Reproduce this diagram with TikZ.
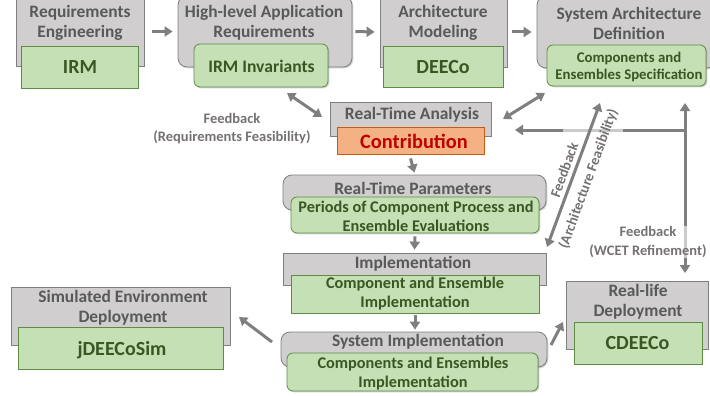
\documentclass[tikz,border=0pt]{standalone}
\usepackage{fontspec}
\setmainfont{Carlito}
\usetikzlibrary{arrows.meta,shadows}
\definecolor{boxgray}{HTML}{D0CECE}
\definecolor{boxline}{HTML}{7F7F7F}
\definecolor{hdrtext}{HTML}{595959}
\definecolor{grnfill}{HTML}{C5E0B4}
\definecolor{grnline}{HTML}{5E8C45}
\definecolor{grntext}{HTML}{385723}
\definecolor{orgfill}{HTML}{F4B183}
\definecolor{orgline}{HTML}{C55A11}
\definecolor{redtext}{HTML}{C00000}
\definecolor{arrgray}{HTML}{7F7F7F}
\definecolor{fbtext}{HTML}{767171}
\newcommand\mkbox[6]{%
  \pgfmathsetmacro\bcx{(#3+#5)/2}\pgfmathsetmacro\bcy{(#4+#6)/2}%
  \pgfmathsetmacro\bww{#5-#3}\pgfmathsetmacro\bhh{#6-#4}%
  \node[#1, minimum width=\bww pt, minimum height=\bhh pt] (#2) at (\bcx,\bcy) {};}
\tikzset{
  shad/.style={drop shadow={shadow xshift=1.3pt, shadow yshift=-1.3pt, opacity=0.3, fill=black!60}},
  graybox/.style={draw=boxline, fill=boxgray, line width=0.8pt, inner sep=0pt, shad},
  grayround/.style={graybox, rounded corners=9pt},
  greenbox/.style={draw=grnline, fill=grnfill, line width=0.8pt, inner sep=0pt, shad},
  greenround/.style={greenbox, rounded corners=6pt},
  orangebox/.style={draw=orgline, fill=orgfill, line width=0.8pt, inner sep=0pt, shad},
  hdr/.style={font=\fontsize{17.4}{20}\selectfont\bfseries, text=hdrtext, align=center, inner sep=0pt},
  gtxt/.style={font=\fontsize{16.3}{19}\selectfont\bfseries, text=grntext, align=center, inner sep=0pt},
  gsmall/.style={font=\fontsize{14.8}{17}\selectfont\bfseries, text=grntext, align=center, inner sep=0pt},
  gbig/.style={font=\fontsize{20}{24}\selectfont\bfseries, text=grntext, inner sep=0pt},
  ctxt/.style={font=\fontsize{20.4}{24}\selectfont\bfseries, text=redtext, inner sep=0pt},
  fb/.style={font=\fontsize{14.5}{18.5}\selectfont\bfseries, text=fbtext, align=center, inner sep=1pt},
  arr/.style={draw=arrgray, line width=3pt, -{Triangle[width=10pt,length=8pt]}},
  darr/.style={draw=arrgray, line width=3pt, {Triangle[width=10pt,length=8pt]}-{Triangle[width=10pt,length=8pt]}}
}
\begin{document}
\begin{tikzpicture}[x=1pt,y=-1pt]
\useasboundingbox (0,0) rectangle (710,396);
% gray boxes
\mkbox{graybox}{re}{16}{-3}{144}{66}
\mkbox{grayround}{hl}{178}{-4}{352}{67}
\mkbox{graybox}{am}{380}{-3}{507}{67}
\mkbox{grayround}{sad}{537}{-4}{716}{68}
\mkbox{graybox}{rta}{330}{102}{491}{136}
\mkbox{grayround}{rtp}{283}{175}{546}{210}
\mkbox{graybox}{impl}{283}{253}{546}{285}
\mkbox{grayround}{si}{281}{332}{547}{367}
\mkbox{graybox}{sed}{11}{287}{230}{345}
\mkbox{graybox}{rld}{566}{281}{708}{349}
% green / orange boxes
\mkbox{greenbox}{reG}{21}{46}{138}{88}
\mkbox{greenround}{hlG}{194}{44}{328}{87}
\mkbox{greenbox}{amG}{383}{46}{503}{87}
\mkbox{greenround}{sadG}{547}{45}{706}{86}
\mkbox{orangebox}{cont}{337}{127}{484}{154}
\mkbox{greenround}{rtpG}{291}{197}{539}{233}
\mkbox{greenbox}{implG}{291}{275}{539}{313}
\mkbox{greenround}{siG}{287}{353}{538}{391}
\mkbox{greenbox}{sedG}{18}{327}{223}{369}
\mkbox{greenbox}{rldG}{574}{322}{702}{364}
% texts
\node[hdr] (reT) at (80,23) {Requirements\\Engineering};
\node[hdr] (hlT) at (264,23) {High-level Application\\Requirements};
\node[hdr] (amT) at (443,23) {Architecture\\Modeling};
\node[hdr] (sadT) at (629,23) {System Architecture\\Definition};
\node[gbig] (reGT) at (80,67) {IRM};
\node[font=\fontsize{17.6}{20}\selectfont\bfseries, text=grntext, inner sep=0pt] (hlGT) at (261.5,66.5) {IRM Invariants};
\node[gbig] (amGT) at (443,67) {DEECo};
\node[gsmall] (sadGT) at (629,66.5) {Components and\\Ensembles Specification};
\node[hdr] (rtaT) at (412,115) {Real-Time Analysis};
\node[ctxt] (contT) at (414,141) {Contribution};
\node[hdr] (rtpT) at (413,188) {Real-Time Parameters};
\node[gtxt] (rtpGT) at (416,216.5) {Periods of Component Process and\\Ensemble Evaluations};
\node[hdr] (implT) at (413,264) {Implementation};
\node[gtxt] (implGT) at (415,294) {Component and Ensemble\\Implementation};
\node[hdr] (siT) at (418,342) {System Implementation};
\node[gtxt] (siGT) at (413,373.5) {Components and Ensembles\\Implementation};
\node[hdr] (sedT) at (123,307.5) {Simulated Environment\\Deployment};
\node[gbig] (sedGT) at (122,350) {jDEECoSim};
\node[hdr] (rldT) at (638,302) {Real-life\\Deployment};
\node[gbig] (rldGT) at (637.5,343) {CDEECo};
% connector end points
\coordinate (fbL1) at (287,93);
\coordinate (fbL2) at (322,117);
\coordinate (fbR1) at (503,119);
\coordinate (fbR2) at (545,93);
\coordinate (vTop) at (685,103);
\coordinate (vBot) at (685,273);
\coordinate (hJoin) at (685,130);
\coordinate (hEnd) at (515,130);
\coordinate (dA) at (547,247);
\coordinate (dB) at (600,103);
\coordinate (simS) at (272,342);
\coordinate (simE) at (239,317);
\coordinate (rlS) at (551,345);
\coordinate (rlE) at (563,322);
% arrows
\draw[arr] ([xshift=8pt]re.east) -- ([xshift=-5pt]hl.west);
\draw[arr] ([xshift=3pt]hl.east) -- ([xshift=-5pt]am.west);
\draw[arr] ([xshift=5pt]am.east) -- ([xshift=-5pt]sad.west);
\draw[darr] (fbL1) -- (fbL2);
\draw[darr] (fbR1) -- (fbR2);
\draw[arr] (hJoin) -- (hEnd);
\draw[white, opacity=0.6, line width=3pt] (563,130) -- (623,130);
\draw[darr] (vTop) -- (vBot);
\draw[darr] (dA) -- (dB);
\draw[arr] ([yshift=-4pt]cont.south) -- ([yshift=2pt]rtp.north);
\draw[arr] ([yshift=-3pt]rtpG.south) -- ([yshift=3pt]impl.north);
\draw[arr] ([yshift=-2pt]implG.south) -- ([yshift=2pt]implG.south |- si.north);
\draw[arr] (simS) -- (simE);
\draw[arr] (rlS) -- (rlE);
% feedback labels
\node[fb] (fbReq) at (232,128.5) {Feedback\\(Requirements Feasibility)};
\node[fb, rotate=70, font=\fontsize{14.5}{25}\selectfont\bfseries] (fbArch) at (577,174.5) {Feedback\\(Architecture Feasibility)};
\node[fb, fill=white, fill opacity=0.6, text opacity=1] (fbW) at (648,242) {Feedback\\(WCET Refinement)};
\end{tikzpicture}
\end{document}
